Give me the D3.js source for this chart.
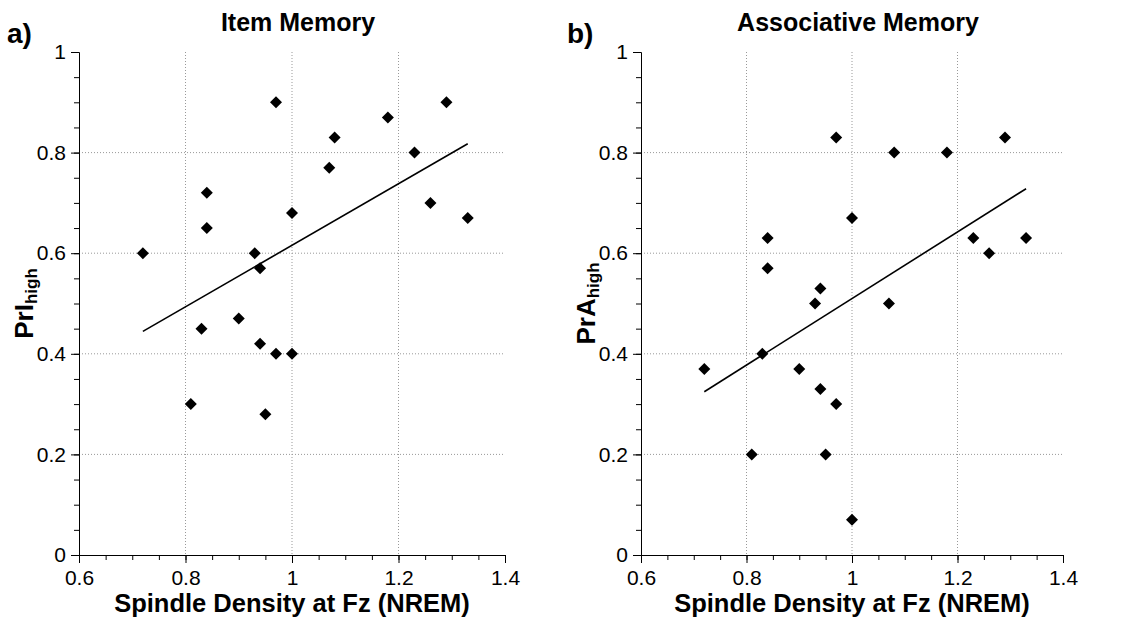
<!DOCTYPE html>
<html>
<head>
<meta charset="utf-8">
<script src="https://cdn.jsdelivr.net/npm/d3@7"></script>
<style>
  body { margin: 0; background: #fff; }
  text { font-family: "Liberation Sans", Arial, sans-serif; }
</style>
</head>
<body>
<div class="canva"></div>
<script>
// spindle density (same subjects in both panels)
const spindle = [0.72, 0.81, 0.83, 0.84, 0.84, 0.90, 0.93, 0.94, 0.94, 0.95, 0.97,
                 0.97, 1.00, 1.00, 1.07, 1.08, 1.18, 1.23, 1.26, 1.29, 1.33];
// PrI high (item memory)
const itemMem = [0.60, 0.30, 0.45, 0.72, 0.65, 0.47, 0.60, 0.57, 0.42, 0.28, 0.90,
                 0.40, 0.68, 0.40, 0.77, 0.83, 0.87, 0.80, 0.70, 0.90, 0.67];
// PrA high (associative memory)
const assocMem = [0.37, 0.20, 0.40, 0.63, 0.57, 0.37, 0.50, 0.53, 0.33, 0.20, 0.83,
                  0.30, 0.67, 0.07, 0.50, 0.80, 0.80, 0.63, 0.60, 0.83, 0.63];

const xTicks = [0.6, 0.8, 1, 1.2, 1.4];
const yTicks = [0, 0.2, 0.4, 0.6, 0.8, 1];

const panels = [
  {tag: "a)", title: "Item Memory", letter: "PrI", values: itemMem, left: 79, right: 505, tagX: 7, titleX: 298},
  {tag: "b)", title: "Associative Memory", letter: "PrA", values: assocMem, left: 641, right: 1063, tagX: 567, titleX: 858}
];

const svg = d3.select(".canva").append("svg")
              .attr("width", 1136)
              .attr("height", 623);

const fmt = d => String(+d.toFixed(2));

// least squares fit
function fit(xs, ys) {
  const mx = d3.mean(xs), my = d3.mean(ys);
  let sxy = 0, sxx = 0;
  xs.forEach((x, i) => { sxy += (x - mx) * (ys[i] - my); sxx += (x - mx) * (x - mx); });
  const b = sxy / sxx;
  return {a: my - b * mx, b: b};
}

panels.forEach(p => {
  const top = 52, bottom = 555;
  const x = d3.scaleLinear().domain([0.6, 1.4]).range([p.left, p.right]);
  const y = d3.scaleLinear().domain([0, 1]).range([bottom, top]);
  const g = svg.append("g");

  // grid
  g.selectAll(".vg").data([0.8, 1, 1.2]).enter().append("line")
    .attr("x1", d => x(d)).attr("x2", d => x(d))
    .attr("y1", top).attr("y2", bottom)
    .attr("stroke", "#999").attr("stroke-dasharray", "1,2");
  g.selectAll(".hg").data([0.2, 0.4, 0.6, 0.8]).enter().append("line")
    .attr("x1", p.left).attr("x2", p.right)
    .attr("y1", d => y(d)).attr("y2", d => y(d))
    .attr("stroke", "#999").attr("stroke-dasharray", "1,2");

  // minor ticks
  g.append("g").attr("transform", `translate(${p.left},0)`)
    .call(d3.axisLeft(y).tickValues(d3.range(0, 1.001, 0.05)).tickSize(5).tickSizeOuter(0).tickFormat(""));
  g.append("g").attr("transform", `translate(0,${bottom})`)
    .call(d3.axisBottom(x).tickValues(d3.range(0.6, 1.401, 0.05)).tickSize(5).tickSizeOuter(0).tickFormat(""));

  // major ticks
  const ya = g.append("g").attr("transform", `translate(${p.left},0)`)
    .call(d3.axisLeft(y).tickValues(yTicks).tickSize(8).tickPadding(5).tickSizeOuter(0).tickFormat(fmt));
  const xa = g.append("g").attr("transform", `translate(0,${bottom})`)
    .call(d3.axisBottom(x).tickValues(xTicks).tickSize(8).tickPadding(7).tickSizeOuter(0).tickFormat(fmt));
  [ya, xa].forEach(a => {
    a.selectAll("text").attr("font-size", 21).attr("font-family", "Liberation Sans, Arial").attr("fill", "#000");
    a.selectAll("line, path").attr("stroke", "#000");
  });

  // regression line
  const f = fit(spindle, p.values);
  const ends = d3.extent(spindle);
  g.append("line")
    .attr("x1", x(ends[0])).attr("y1", y(f.a + f.b * ends[0]))
    .attr("x2", x(ends[1])).attr("y2", y(f.a + f.b * ends[1]))
    .attr("stroke", "#000").attr("stroke-width", 1.6);

  // points
  g.selectAll(".pt").data(p.values).enter().append("path")
    .attr("d", "M0,-6L6,0L0,6L-6,0Z")
    .attr("transform", (d, i) => `translate(${x(spindle[i])},${y(d)})`)
    .attr("fill", "#000");

  // texts
  g.append("text").text(p.tag)
    .attr("x", p.tagX).attr("y", 43)
    .attr("font-size", 28).attr("font-weight", "bold");
  g.append("text").text(p.title)
    .attr("x", p.titleX).attr("y", 31)
    .attr("text-anchor", "middle")
    .attr("font-size", 25).attr("font-weight", "bold");
  g.append("text").text("Spindle Density at Fz (NREM)")
    .attr("x", (p.left + p.right) / 2).attr("y", 612)
    .attr("text-anchor", "middle")
    .attr("font-size", 25.5).attr("font-weight", "bold");

  const yl = g.append("text")
    .attr("transform", `translate(${p.left - 46},${(top + bottom) / 2}) rotate(-90)`)
    .attr("text-anchor", "middle")
    .attr("font-weight", "bold");
  yl.append("tspan").text(p.letter).attr("font-size", 26);
  yl.append("tspan").text("high").attr("font-size", 17).attr("dy", 4);
});
</script>
</body>
</html>
